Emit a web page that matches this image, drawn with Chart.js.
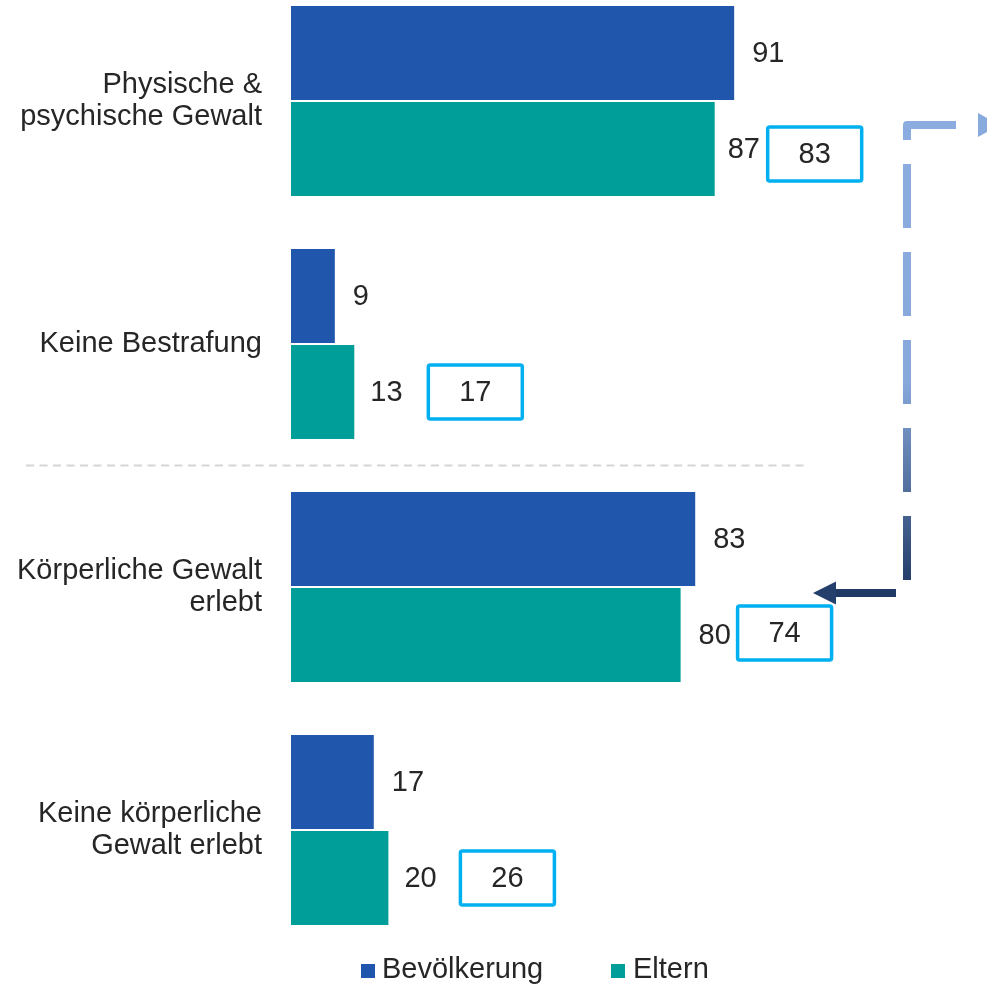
<!DOCTYPE html>
<html>
<head>
<meta charset="utf-8">
<script src="https://cdn.jsdelivr.net/npm/chart.js@4/dist/chart.umd.min.js"></script>
<style>
  html, body { margin: 0; padding: 0; background: #ffffff; }
  canvas { display: block; }
</style>
</head>
<body>
<canvas id="chart" width="987" height="986"></canvas>
<script>
// Categories (multi-line labels are arrays)
const kategorien = [
  ['Physische &', 'psychische Gewalt'],
  'Keine Bestrafung',
  ['Körperliche Gewalt', 'erlebt'],
  ['Keine körperliche', 'Gewalt erlebt']
];
// Shares in percent
const bevoelkerung = [91, 9, 83, 17];
const eltern = [87, 13, 80, 20];
// Comparison values shown in the framed boxes next to the "Eltern" bars
const vergleich = [83, 17, 74, 26];
const serien = ['Bevölkerung', 'Eltern'];

// Styling
const FONT = '"Liberation Sans", Arial, Helvetica, sans-serif';
const FONT_SIZE = 29;
const TEXT = '#262626';
const BLUE = '#2156ad';
const TEAL = '#009e98';
const FRAME = '#00b0f0';

// Layout helpers (pixel offsets from the bar ends)
const labelGapBev = [18, 18, 18, 18];
const labelGapElt = [13, 16, 18, 16];
const boxGap = [53, 74, 57, 72];
const boxNudgeY = [5, 0, -2, 0];
const BOX_W = 94, BOX_H = 54;

const overlay = {
  id: 'overlay',
  afterDatasetsDraw(chart) {
    const ctx = chart.ctx;
    const yScale = chart.scales.y;
    const m0 = chart.getDatasetMeta(0);
    const m1 = chart.getDatasetMeta(1);

    ctx.save();
    ctx.font = FONT_SIZE + 'px ' + FONT;
    ctx.fillStyle = TEXT;
    ctx.textBaseline = 'middle';

    // value labels
    m0.data.forEach((bar, i) => {
      ctx.textAlign = 'left';
      ctx.fillText(String(bevoelkerung[i]), bar.x + labelGapBev[i], bar.y + 1);
    });
    m1.data.forEach((bar, i) => {
      ctx.textAlign = 'left';
      ctx.fillText(String(eltern[i]), bar.x + labelGapElt[i], bar.y + 1);

      // framed comparison value
      const bx = bar.x + boxGap[i];
      const by = bar.y - BOX_H / 2 + boxNudgeY[i];
      ctx.lineWidth = 3.5;
      ctx.strokeStyle = FRAME;
      ctx.beginPath();
      ctx.roundRect(bx, by, BOX_W, BOX_H, 2);
      ctx.stroke();
      ctx.textAlign = 'center';
      ctx.fillText(String(vergleich[i]), bx + BOX_W / 2, by + BOX_H / 2 + 1);
    });

    // dashed separator between the two blocks
    const sepY = (yScale.getPixelForTick(1) + yScale.getPixelForTick(2)) / 2;
    ctx.strokeStyle = '#d6d6d6';
    ctx.lineWidth = 2;
    ctx.setLineDash([8, 5.5]);
    ctx.beginPath();
    ctx.moveTo(26, sepY);
    ctx.lineTo(806, sepY);
    ctx.stroke();

    // dashed connector arrow on the right
    const yTop = 125, yBot = 593, xV = 907;
    const grad = ctx.createLinearGradient(0, yTop, 0, yBot);
    grad.addColorStop(0, '#8aacde');
    grad.addColorStop(0.55, '#86a8da');
    grad.addColorStop(1, '#1f3864');
    ctx.strokeStyle = grad;
    ctx.lineWidth = 8;
    ctx.lineJoin = 'round';
    ctx.lineCap = 'butt';
    ctx.setLineDash([64, 24]);
    ctx.beginPath();
    ctx.moveTo(956, yTop);
    ctx.lineTo(xV, yTop);
    ctx.lineTo(xV, yBot);
    ctx.lineTo(832, yBot);
    ctx.stroke();
    ctx.setLineDash([]);

    ctx.fillStyle = '#88aadc';
    ctx.beginPath();
    ctx.moveTo(978, yTop - 12);
    ctx.lineTo(1000, yTop);
    ctx.lineTo(978, yTop + 12);
    ctx.closePath();
    ctx.fill();

    ctx.fillStyle = '#243f6b';
    ctx.beginPath();
    ctx.moveTo(813, yBot);
    ctx.lineTo(836, yBot - 11.5);
    ctx.lineTo(836, yBot + 11.5);
    ctx.closePath();
    ctx.fill();

    // legend
    const legend = [
      { name: serien[0], color: BLUE, box: 361, text: 382 },
      { name: serien[1], color: TEAL, box: 611, text: 633 }
    ];
    ctx.font = FONT_SIZE + 'px ' + FONT;
    ctx.textAlign = 'left';
    ctx.textBaseline = 'alphabetic';
    legend.forEach(l => {
      ctx.fillStyle = l.color;
      ctx.fillRect(l.box, 964, 14, 14);
      ctx.fillStyle = TEXT;
      ctx.fillText(l.name, l.text, 978);
    });
    ctx.restore();
  }
};

new Chart(document.getElementById('chart'), {
  type: 'bar',
  data: {
    labels: kategorien,
    datasets: [
      { label: serien[0], data: bevoelkerung, backgroundColor: BLUE, borderWidth: 0, clip: false },
      { label: serien[1], data: eltern, backgroundColor: TEAL, borderWidth: 0, clip: false }
    ]
  },
  options: {
    indexAxis: 'y',
    responsive: false,
    animation: false,
    devicePixelRatio: 1,
    categoryPercentage: 0.79,
    barPercentage: 0.98,
    layout: { padding: { top: 101, bottom: 156, left: 0, right: 209 } },
    plugins: {
      legend: { display: false },
      tooltip: { enabled: false }
    },
    scales: {
      x: { min: 0, max: 100, display: false },
      y: {
        offset: false,
        grid: { display: false, drawTicks: false },
        border: { display: false },
        ticks: {
          color: TEXT,
          padding: 29,
          autoSkip: false,
          font: { family: FONT, size: FONT_SIZE, lineHeight: 32 / FONT_SIZE }
        },
        afterFit(scale) { scale.width = 291; }
      }
    }
  },
  plugins: [overlay]
});
</script>
</body>
</html>
